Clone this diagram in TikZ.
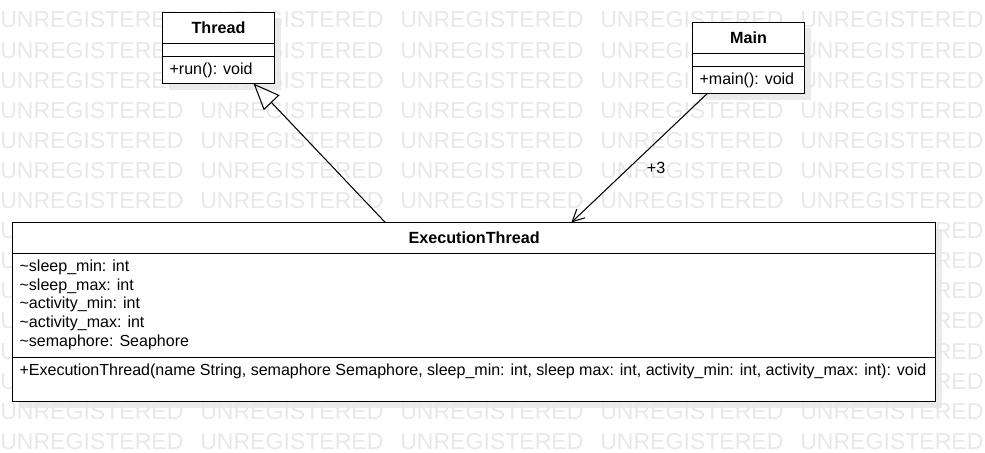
\documentclass[tikz,border=0pt]{standalone}
\usepackage{fontspec}
\setmainfont{Liberation Sans}
\usetikzlibrary{positioning, arrows.meta, backgrounds}

\begin{document}
\begin{tikzpicture}[x=0.025cm, y=-0.025cm,
  box/.style={draw=black, line width=0.75pt, fill=white, inner sep=0pt, outer sep=0pt},
  title/.style={box, font=\fontsize{11.5}{13}\selectfont\bfseries, minimum height=0.775cm},
  member/.style={font=\fontsize{11.4}{13.35}\selectfont, align=left, inner xsep=0.17cm, inner ysep=0.15cm, anchor=north west},
  wmark/.style={text=black!9, font=\fontsize{16.4}{18}\selectfont, inner sep=0pt, anchor=west},
  shade/.style={fill=black, opacity=0.08}]

% Frame
\useasboundingbox (0,0) rectangle (985,453);

% Watermark
\foreach \r in {0,...,14}
  \foreach \c in {0,...,4}
    \node[wmark] (wm-\r-\c) at (200*\c, 20+30.1*\r) {UNREGISTERED};

% Thread
\node[title, minimum width=2.8cm, anchor=north west] (thread) at (162.5,12.5) {Thread};
\node[box, minimum width=2.8cm, minimum height=0.325cm, below=0pt of thread] (thread-attr) {};
\node[box, minimum width=2.8cm, minimum height=0.675cm, below=0pt of thread-attr] (thread-ops) {};
\node[member] (thread-op1) at (thread-ops.north west) {+run(): void};

% Main
\node[title, minimum width=2.8cm, anchor=north west] (main) at (692.5,22.5) {Main};
\node[box, minimum width=2.8cm, minimum height=0.325cm, below=0pt of main] (main-attr) {};
\node[box, minimum width=2.8cm, minimum height=0.675cm, below=0pt of main-attr] (main-ops) {};
\node[member] (main-op1) at (main-ops.north west) {+main(): void};

% ExecutionThread
\node[title, minimum width=23.075cm, anchor=north west] (exec) at (12.5,222.5) {ExecutionThread};
\node[box, minimum width=23.075cm, minimum height=2.6cm, below=0pt of exec] (exec-attr) {};
\node[member] (exec-fields) at (exec-attr.north west)
  {\textasciitilde sleep\_min: int\\
   \textasciitilde sleep\_max: int\\
   \textasciitilde activity\_min: int\\
   \textasciitilde activity\_max: int\\
   \textasciitilde semaphore: Seaphore};
\node[box, minimum width=23.075cm, minimum height=1.1cm, below=0pt of exec-attr] (exec-ops) {};
\node[member] (exec-op1) at (exec-ops.north west)
  {+ExecutionThread(name String, semaphore Semaphore, sleep\_min: int, sleep max: int, activity\_min: int, activity\_max: int): void};

% Shadows
\begin{scope}[on background layer]
\fill[shade] ([shift={(6,6)}]thread.north west) rectangle ([shift={(6,6)}]thread-ops.south east);
\fill[shade] ([shift={(6,6)}]main.north west) rectangle ([shift={(6,6)}]main-ops.south east);
\fill[shade] ([shift={(6,6)}]exec.north west) rectangle ([shift={(6,6)}]exec-ops.south east);
\end{scope}

% Generalization and association
\draw[line width=0.75pt, -{Triangle[open, length=0.66cm, width=0.54cm]}] ([xshift=-2.22cm]exec.north) -- ([xshift=0.875cm]thread-ops.south);
\draw[line width=0.75pt, -{Straight Barb[length=0.3cm, width=0.3cm]}] ([xshift=-1.03cm]main-ops.south) -- ([xshift=2.43cm]exec.north)
  node[pos=0.58, anchor=west, xshift=0.33cm, font=\fontsize{11.5}{13}\selectfont] (mult) {+3};

\end{tikzpicture}
\end{document}
